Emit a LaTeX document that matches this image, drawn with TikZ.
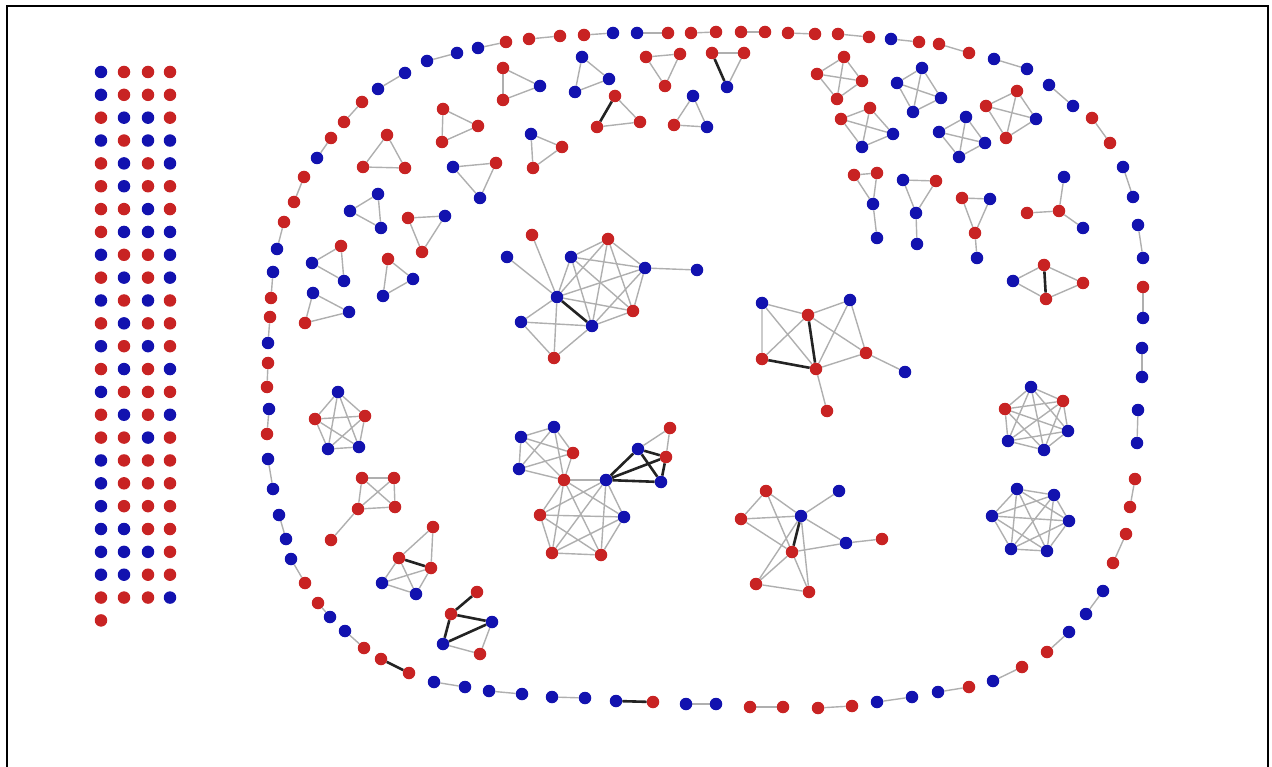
\documentclass[tikz,border=0pt]{standalone}
\usetikzlibrary{backgrounds}
\definecolor{nred}{RGB}{200,35,35}
\definecolor{nblue}{RGB}{18,18,175}
\definecolor{egray}{RGB}{175,175,175}
\definecolor{edark}{RGB}{35,35,35}
\newcommand\nR[3]{\node[rn] (#1) at (#2,#3) {};}
\newcommand\nB[3]{\node[bn] (#1) at (#2,#3) {};}
\newcommand\cg[2]{\foreach \ga [count=\gi] in {#2}{\foreach \gb [count=\gj] in {#2}{\ifnum\gi<\gj\relax \draw[#1] (\ga) -- (\gb);\fi}}}
\begin{document}
\begin{tikzpicture}[x=1pt,y=-1pt,
  nd/.style={circle,inner sep=0pt,minimum size=12.5pt,draw=none},
  rn/.style={nd,fill=nred},
  bn/.style={nd,fill=nblue},
  ed/.style={draw=egray,line width=1.4pt},
  tk/.style={draw=edark,line width=2.6pt}]
\useasboundingbox (0,0) rectangle (1272,767);
\draw[line width=2pt] (7,770) -- (7,6) -- (1268,6) -- (1268,770);
% grid of isolated nodes
\foreach \row [count=\i from 0] in {{bn,rn,rn,rn},{bn,rn,rn,rn},{rn,bn,bn,rn},{bn,rn,bn,bn},{rn,bn,rn,bn},{rn,bn,rn,rn},{rn,rn,bn,rn},{rn,bn,bn,bn},{bn,rn,rn,bn},{rn,bn,rn,bn},{bn,rn,bn,rn},{rn,bn,rn,rn},{bn,rn,bn,rn},{rn,bn,rn,bn},{bn,rn,rn,rn},{rn,bn,rn,bn},{rn,rn,bn,rn},{bn,rn,rn,rn},{bn,rn,rn,rn},{bn,rn,rn,rn},{bn,bn,rn,rn},{bn,bn,bn,rn},{bn,bn,rn,rn},{rn,rn,rn,bn},{rn}}{
  \foreach \c [count=\j from 0] in \row {
    \pgfmathsetmacro\gx{{101,124,148,170}[\j]}
    \node[\c] (g-\i-\j) at (\gx,{72+22.85*\i}) {};
  }
}
% outer ring
\foreach \px/\py/\c [count=\k] in {362/102/rn, 344/122/rn, 331/138/rn, 317/158/bn, 304/177/rn, 294/202/rn, 284/222/rn, 277/249/bn, 273/272/bn, 271/298/rn, 270/317/rn, 268/343/bn, 268/363/rn, 267/387/rn, 269/409/bn, 267/434/rn, 268/459/bn, 273/489/bn, 279/515/bn, 286/539/bn, 291/559/bn, 305/583/rn, 318/603/rn, 330/617/bn, 345/631/bn, 364/648/rn, 381/659/rn, 409/673/rn, 434/682/bn, 465/687/bn, 489/691/bn, 522/694/bn, 552/697/bn, 585/698/bn, 616/701/bn, 653/702/rn, 686/704/bn, 716/704/bn, 750/707/rn, 783/707/rn, 818/708/rn, 852/706/rn, 877/702/bn, 912/697/bn, 938/692/bn, 969/687/rn, 993/681/bn, 1022/667/rn, 1047/652/rn, 1069/632/bn, 1086/614/bn, 1103/591/bn, 1113/563/rn, 1126/534/rn, 1130/507/rn, 1135/479/rn, 1137/443/bn, 1138/410/bn, 1142/377/bn, 1142/348/bn, 1143/318/bn, 1143/287/rn, 1143/258/bn, 1138/225/bn, 1133/197/bn, 1123/167/bn, 1110/143/rn, 1092/118/rn, 1073/106/bn, 1049/85/bn, 1027/69/bn, 994/59/bn, 969/53/rn, 939/44/rn, 919/42/rn, 891/39/bn, 869/37/rn, 838/34/rn, 815/34/rn, 788/33/rn, 765/32/rn, 741/32/rn, 716/32/rn, 691/33/rn, 668/33/rn, 637/33/bn, 613/33/bn, 584/35/rn, 560/36/rn, 529/39/rn, 506/42/rn, 478/48/bn, 457/53/bn, 427/61/bn, 405/73/bn, 378/89/bn}{
  \node[\c] (r\k) at (\px,\py) {};
}
% triangles
\nR{t1a}{387}{135}\nR{t1b}{363}{167}\nR{t1c}{405}{168}
\nR{t2a}{443}{109}\nR{t2b}{478}{126}\nR{t2c}{442}{142}
\nB{t3a}{453}{167}\nR{t3b}{496}{163}\nB{t3c}{480}{198}
\nB{t4a}{378}{194}\nB{t4b}{350}{211}\nB{t4c}{381}{228}
\nR{t5a}{408}{218}\nB{t5b}{445}{216}\nR{t5c}{422}{252}
\nR{t6a}{503}{68}\nB{t6b}{540}{86}\nR{t6c}{503}{100}
\nB{t7a}{531}{134}\nR{t7b}{562}{147}\nR{t7c}{533}{168}
\nB{t8a}{582}{57}\nB{t8b}{609}{79}\nB{t8c}{575}{92}
\nR{t9a}{615}{96}\nR{t9b}{597}{127}\nR{t9c}{640}{122}
\nR{t10a}{646}{57}\nR{t10b}{680}{54}\nR{t10c}{665}{86}
\nR{t11a}{712}{53}\nR{t11b}{744}{53}\nB{t11c}{727}{87}
\nB{t13a}{693}{96}\nR{t13b}{674}{125}\nB{t13c}{707}{127}
\nR{t14a}{388}{259}\nB{t14b}{413}{279}\nB{t14c}{383}{296}
\nR{t15a}{341}{246}\nB{t15b}{312}{263}\nB{t15c}{344}{281}
\nB{t16a}{313}{293}\nB{t16b}{349}{312}\nR{t16c}{305}{323}
% K4s top right
\nR{ka1}{844}{57}\nR{ka2}{817}{74}\nR{ka3}{862}{81}\nR{ka4}{837}{99}
\nB{kb1}{922}{68}\nB{kb2}{897}{83}\nB{kb3}{941}{98}\nB{kb4}{913}{112}
\nR{kc1}{870}{108}\nR{kc2}{841}{119}\nB{kc3}{893}{134}\nB{kc4}{862}{147}
\nB{kd1}{966}{117}\nB{kd2}{939}{132}\nB{kd3}{985}{143}\nB{kd4}{959}{157}
\nR{ke1}{1017}{91}\nR{ke2}{986}{106}\nB{ke3}{1036}{119}\nR{ke4}{1006}{138}
% triangles with pendant
\nR{p1a}{854}{175}\nR{p1b}{877}{173}\nB{p1c}{873}{204}\nB{p1d}{877}{238}
\nB{p2a}{903}{180}\nR{p2b}{936}{181}\nB{p2c}{916}{213}\nB{p2d}{917}{244}
\nR{p3a}{962}{198}\nB{p3b}{990}{199}\nR{p3c}{975}{233}\nB{p3d}{977}{258}
% star
\nR{s0}{1059}{211}\nB{s1}{1064}{177}\nR{s2}{1027}{213}\nB{s3}{1083}{228}
% diamond
\nR{d1}{1044}{265}\nB{d2}{1013}{281}\nR{d3}{1083}{283}\nR{d4}{1046}{299}
% K6 right
\nB{h1}{1031}{387}\nR{h2}{1063}{401}\nR{h3}{1005}{409}\nB{h4}{1068}{431}\nB{h5}{1008}{441}\nB{h6}{1044}{450}
\nB{j1}{1017}{489}\nB{j2}{1054}{495}\nB{j3}{992}{516}\nB{j4}{1069}{521}\nB{j5}{1011}{549}\nB{j6}{1047}{551}
% K5 left
\nB{v1}{338}{392}\nR{v2}{315}{419}\nR{v3}{365}{416}\nB{v4}{328}{449}\nB{v5}{359}{447}
% K4 left + pendant
\nR{f1}{362}{478}\nR{f2}{394}{478}\nR{f3}{358}{509}\nR{f4}{395}{507}\nR{f5}{331}{540}
% small clusters lower left
\nR{c1a}{433}{527}\nR{c1b}{399}{558}\nR{c1c}{431}{568}\nB{c1d}{382}{583}\nB{c1e}{416}{594}
\nR{c2a}{477}{592}\nR{c2b}{451}{614}\nB{c2c}{492}{622}\nB{c2d}{443}{644}\nR{c2e}{480}{654}
% big top cluster
\nR{b1}{532}{235}\nR{b2}{608}{239}\nB{b3}{507}{257}\nB{b4}{571}{257}\nB{b5}{645}{268}\nB{b6}{697}{270}
\nB{b7}{557}{297}\nB{b8}{521}{322}\nB{b9}{592}{326}\nR{b10}{633}{311}\nR{b11}{554}{358}
% right cluster
\nB{q1}{762}{303}\nR{q2}{808}{315}\nB{q3}{850}{300}\nR{q4}{762}{359}\nR{q5}{816}{369}\nR{q6}{866}{353}\nB{q7}{905}{372}\nR{q8}{827}{411}
% center cluster
\nB{m1}{521}{437}\nB{m2}{554}{427}\nR{m3}{573}{453}\nB{m4}{519}{469}\nR{m5}{564}{480}\nB{m6}{606}{480}
\nR{m7}{540}{515}\nB{m8}{624}{517}\nR{m9}{552}{553}\nR{m10}{601}{555}
\nB{m11}{638}{449}\nR{m12}{670}{428}\nR{m13}{666}{457}\nB{m14}{661}{482}
% bottom cluster
\nR{n1}{766}{491}\nB{n2}{839}{491}\nR{n3}{741}{519}\nB{n4}{801}{516}\nR{n5}{792}{552}\nB{n6}{846}{543}\nR{n7}{882}{539}\nR{n8}{756}{584}\nR{n9}{809}{592}
\begin{pgfonlayer}{background}
\foreach \k in {1,3,...,95}{\pgfmathtruncatemacro\kk{\k+1}\draw[ed] (r\k) -- (r\kk);}
\draw[tk] (r27) -- (r28);
\draw[tk] (r35) -- (r36);
\cg{ed}{t1a,t1b,t1c}\cg{ed}{t2a,t2b,t2c}\cg{ed}{t3a,t3b,t3c}\cg{ed}{t4a,t4b,t4c}
\cg{ed}{t5a,t5b,t5c}\cg{ed}{t6a,t6b,t6c}\cg{ed}{t7a,t7b,t7c}\cg{ed}{t8a,t8b,t8c}
\cg{ed}{t9a,t9b,t9c}\cg{ed}{t10a,t10b,t10c}\cg{ed}{t11a,t11b,t11c}\cg{ed}{t13a,t13b,t13c}
\cg{ed}{t14a,t14b,t14c}\cg{ed}{t15a,t15b,t15c}\cg{ed}{t16a,t16b,t16c}
\draw[tk] (t9a) -- (t9b);
\draw[tk] (t11a) -- (t11c);
\cg{ed}{ka1,ka2,ka3,ka4}\cg{ed}{kb1,kb2,kb3,kb4}\cg{ed}{kc1,kc2,kc3,kc4}\cg{ed}{kd1,kd2,kd3,kd4}\cg{ed}{ke1,ke2,ke3,ke4}
\cg{ed}{p1a,p1b,p1c}\draw[ed] (p1c) -- (p1d);
\cg{ed}{p2a,p2b,p2c}\draw[ed] (p2c) -- (p2d);
\cg{ed}{p3a,p3b,p3c}\draw[ed] (p3c) -- (p3d);
\draw[ed] (s0) -- (s1) (s0) -- (s2) (s0) -- (s3);
\draw[ed] (d2) -- (d1) (d2) -- (d4) (d1) -- (d3) (d4) -- (d3);
\draw[tk] (d1) -- (d4);
\cg{ed}{h1,h2,h3,h4,h5,h6}\cg{ed}{j1,j2,j3,j4,j5,j6}
\cg{ed}{v1,v2,v3,v4,v5}
\cg{ed}{f1,f2,f3,f4}\draw[ed] (f3) -- (f5);
\cg{ed}{c1b,c1c,c1d,c1e}\draw[ed] (c1a) -- (c1b) (c1a) -- (c1c);
\draw[tk] (c1b) -- (c1c);
\draw[tk] (c2a) -- (c2b) (c2b) -- (c2c) (c2b) -- (c2d) (c2d) -- (c2c);
\draw[ed] (c2d) -- (c2e) (c2c) -- (c2e);
\cg{ed}{b7,b4,b2,b5,b10,b9}
\draw[ed] (b5) -- (b6) (b3) -- (b7) (b1) -- (b7) (b8) -- (b7) (b8) -- (b9) (b8) -- (b11) (b11) -- (b7) (b11) -- (b9);
\draw[tk] (b7) -- (b9);
\draw[ed] (q1) -- (q2) (q1) -- (q4) (q1) -- (q5) (q2) -- (q3) (q2) -- (q4) (q2) -- (q6) (q3) -- (q5) (q3) -- (q6) (q5) -- (q6) (q6) -- (q7) (q5) -- (q8);
\draw[tk] (q2) -- (q5) (q4) -- (q5);
\cg{ed}{m1,m2,m3,m4,m5}\cg{ed}{m5,m6,m7,m8,m9,m10}
\draw[ed] (m11) -- (m12) (m12) -- (m13);
\draw[tk] (m6) -- (m11) (m6) -- (m13) (m6) -- (m14) (m11) -- (m13) (m11) -- (m14) (m13) -- (m14);
\draw[ed] (n1) -- (n4) (n1) -- (n5) (n1) -- (n9) (n1) -- (n3) (n2) -- (n4) (n3) -- (n4) (n3) -- (n5) (n4) -- (n6) (n4) -- (n9) (n4) -- (n8) (n5) -- (n6) (n5) -- (n8) (n5) -- (n9) (n8) -- (n9) (n6) -- (n7);
\draw[tk] (n4) -- (n5);
\end{pgfonlayer}
\end{tikzpicture}
\end{document}
